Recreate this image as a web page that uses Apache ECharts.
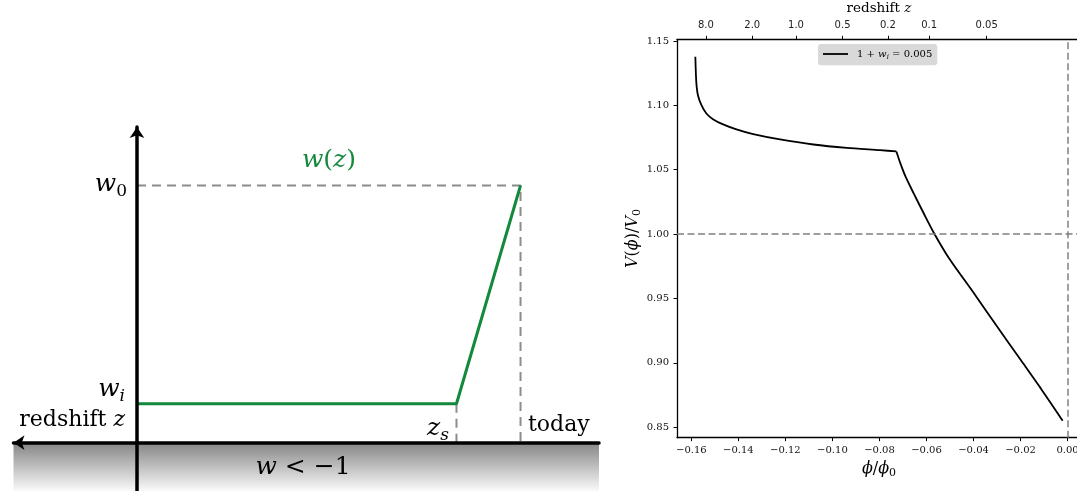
<!DOCTYPE html>
<html>
<head>
<meta charset="utf-8">
<script src="https://cdn.jsdelivr.net/npm/echarts@6/dist/echarts.min.js"></script>
<style>
  html, body { margin: 0; padding: 0; background: #fff; }
  #chart { width: 1077px; height: 491px; }
</style>
</head>
<body>
<div id="chart"></div>
<script>
const SERIF = 'DejaVu Serif';
const GREEN = '#12893c';
const GUIDE_GRAY = '#8c8c8c';
const REF_GRAY = '#808080';

// left panel: schematic w(z), arbitrary units (z axis at x = 0, today at x = 10, w_i at y = 1)
const wPath = [[0, 1], [8.33, 1], [10, 6.6]];
const w0Guide = [[0, 6.6], [10, 6.6], [10, 0]];
const zsGuide = [[8.33, 1], [8.33, 0]];
const phantomRegion = [[-3.38, -1.239], [12.046, 0]];

// right panel: V(phi)/V0 against phi/phi0
const phi = [
  -0.1583, -0.1579, -0.1572, -0.1557, -0.1536, -0.1508, -0.1465, -0.1408, -0.1337,
  -0.1223, -0.1081, -0.0939, -0.0797, -0.0728, -0.0711, -0.0690, -0.0655, -0.0612,
  -0.0569, -0.0505, -0.0399, -0.0299, -0.0199, -0.0114, -0.0021
];
const potential = [
  1.1377, 1.1182, 1.1079, 1.1002, 1.0937, 1.0893, 1.0852, 1.0813, 1.0776,
  1.0735, 1.0696, 1.0670, 1.0652, 1.0642, 1.0549, 1.0450, 1.0318, 1.0162,
  1.0011, 0.9815, 0.9543, 0.9280, 0.9022, 0.8802, 0.8550
];
// kink where w starts to move (index into phi/potential)
const kink = 13;
const xTicks = [-0.16, -0.14, -0.12, -0.10, -0.08, -0.06, -0.04, -0.02, 0.00];
const yTicks = [0.85, 0.90, 0.95, 1.00, 1.05, 1.10, 1.15];
const zTickPos = [-0.1538, -0.1341, -0.1155, -0.0957, -0.0764, -0.0589, -0.0344];
const zTickLabels = ['8.0', '2.0', '1.0', '0.5', '0.2', '0.1', '0.05'];

const chart = echarts.init(document.getElementById('chart'));

const mathRich = (size, color) => ({
  i: {fontFamily: SERIF, fontStyle: 'italic', fontSize: size, color: color, lineHeight: size * 1.25},
  r: {fontFamily: SERIF, fontSize: size, color: color, lineHeight: size * 1.25},
  s: {fontFamily: SERIF, fontSize: Math.round(size * 0.68), color: color,
      lineHeight: size * 1.25, verticalAlign: 'bottom'},
  si: {fontFamily: SERIF, fontStyle: 'italic', fontSize: Math.round(size * 0.68), color: color,
       lineHeight: size * 1.25, verticalAlign: 'bottom'}
});

const tickStyle = {show: true, length: 3.5, lineStyle: {color: '#000', width: 1}};
const spine = {show: true, onZero: false, lineStyle: {color: '#000', width: 1.3}};
const tickFont = {fontFamily: SERIF, fontSize: 10, color: '#111'};

function nearestLabel(v) {
  let best = 0;
  zTickPos.forEach((p, i) => {
    if (Math.abs(p - v) < Math.abs(zTickPos[best] - v)) best = i;
  });
  return zTickLabels[best];
}

function minusFmt(v) {
  return (v < -1e-9 ? '\u2212' : '') + Math.abs(v).toFixed(2);
}

function schematicText(x, y, text, align, size, color) {
  return {
    type: 'text', x: x, y: y, z: 20, silent: true,
    style: {
      text: text, fill: color || '#000', align: align, verticalAlign: 'middle',
      fontFamily: SERIF, fontSize: size, rich: mathRich(size, color || '#000')
    }
  };
}

const curve = phi.map((p, i) => [p, potential[i]]);
const curveSeries = (data) => ({
  name: 'wi', type: 'line', xAxisIndex: 1, yAxisIndex: 1, z: 3,
  symbol: 'none', smooth: 0.25,
  data: data,
  itemStyle: {color: '#000'},
  lineStyle: {color: '#000', width: 1.8}
});

const option = {
  animation: false,
  backgroundColor: '#fff',
  grid: [
    {left: 13.5, width: 585.5, top: 127, height: 364, outerBoundsMode: 'none'},
    {left: 677, width: 404, top: 39.3, height: 398.4, outerBoundsMode: 'none'}
  ],
  legend: {
    left: 818, top: 44,
    padding: [5, 5, 5, 5],
    backgroundColor: '#d9d9d9',
    borderRadius: 3,
    icon: 'rect',
    itemWidth: 25, itemHeight: 1.8,
    selectedMode: false,
    data: ['wi'],
    formatter: () => '{r|1 + }{i|w}{si|i}{r| = 0.005}',
    textStyle: {padding: [0, 0, 0, 4], rich: mathRich(10, '#000')}
  },
  xAxis: [
    {
      gridIndex: 0, type: 'value', min: -3.22, max: 12.046, z: 5,
      axisLine: {show: true, onZero: true, symbol: ['arrow', 'none'], symbolSize: [11, 11],
                 lineStyle: {color: '#000', width: 3.5}},
      axisTick: {show: false}, axisLabel: {show: false}, splitLine: {show: false}
    },
    {
      gridIndex: 1, type: 'value', min: -0.1661, max: 0.0057, position: 'bottom',
      axisLine: spine,
      axisTick: Object.assign({customValues: xTicks}, tickStyle),
      axisLabel: Object.assign({customValues: xTicks, margin: 8, formatter: minusFmt}, tickFont),
      splitLine: {show: false},
      name: '{i|\u03d5}{r|/}{i|\u03d5}{s|0}',
      nameLocation: 'middle', nameGap: 13,
      nameTextStyle: {rich: mathRich(16, '#000')}
    },
    {
      gridIndex: 1, type: 'value', min: -0.1661, max: 0.0057, position: 'top',
      axisLine: spine,
      axisTick: Object.assign({customValues: zTickPos}, tickStyle),
      axisLabel: {customValues: zTickPos, margin: 9, formatter: nearestLabel,
                  fontFamily: 'DejaVu Sans', fontSize: 10, color: '#222'},
      splitLine: {show: false},
      name: '{r|redshift }{i|z}',
      nameLocation: 'middle', nameGap: 18,
      nameTextStyle: {rich: mathRich(13.5, '#000')}
    }
  ],
  yAxis: [
    {
      gridIndex: 0, type: 'value', min: -1.239, max: 8.1, z: 5,
      axisLine: {show: true, onZero: true, symbol: ['none', 'arrow'], symbolSize: [11, 11],
                 lineStyle: {color: '#000', width: 3.5}},
      axisTick: {show: false}, axisLabel: {show: false}, splitLine: {show: false}
    },
    {
      gridIndex: 1, type: 'value', min: 0.8419, max: 1.1513,
      axisLine: spine,
      axisTick: Object.assign({customValues: yTicks}, tickStyle),
      axisLabel: Object.assign({customValues: yTicks, margin: 8, formatter: v => v.toFixed(2)}, tickFont),
      splitLine: {show: false},
      name: '{i|V}{r|(}{i|\u03d5}{r|)/}{i|V}{s|0}',
      nameLocation: 'middle', nameGap: 34,
      nameTextStyle: {rich: mathRich(16, '#000')}
    }
  ],
  series: [
    {
      name: 'zsGuide', type: 'line', xAxisIndex: 0, yAxisIndex: 0, z: 1, clip: false,
      symbol: 'none', data: zsGuide,
      lineStyle: {color: GUIDE_GRAY, width: 2, type: [9, 6]},
      markArea: {
        silent: true,
        itemStyle: {
          color: new echarts.graphic.LinearGradient(0, 0, 0, 1, [
            {offset: 0, color: '#858585'},
            {offset: 1, color: '#fafafa'}
          ])
        },
        data: [[{coord: phantomRegion[0]}, {coord: phantomRegion[1]}]]
      }
    },
    {
      name: 'w0Guide', type: 'line', xAxisIndex: 0, yAxisIndex: 0, z: 2,
      symbol: 'none', data: w0Guide,
      lineStyle: {color: GUIDE_GRAY, width: 2, type: [9, 6]}
    },
    {
      name: 'w', type: 'line', xAxisIndex: 0, yAxisIndex: 0, z: 3,
      symbol: 'none', data: wPath,
      lineStyle: {color: GREEN, width: 3}
    },
    Object.assign(curveSeries(curve.slice(0, kink + 1)), {
      markLine: {
        silent: true, symbol: 'none', label: {show: false},
        lineStyle: {color: REF_GRAY, width: 1.5, type: [7, 3.5]},
        data: [{yAxis: 1.0}, {xAxis: 0.0}]
      }
    }),
    curveSeries(curve.slice(kink))
  ],
  graphic: [
    schematicText(329, 160, '{i|w}{r|(}{i|z}{r|)}', 'center', 25, GREEN),
    schematicText(127, 184, '{i|w}{s|0}', 'right', 25),
    schematicText(125, 389, '{i|w}{si|i}', 'right', 25),
    schematicText(125, 420, '{r|redshift }{i|z}', 'right', 22),
    schematicText(449, 428, '{i|z}{si|s}', 'right', 25),
    schematicText(528, 425, '{r|today}', 'left', 22),
    schematicText(303, 467, '{i|w}{r| < \u22121}', 'center', 25)
  ]
};

chart.setOption(option);
</script>
</body>
</html>
